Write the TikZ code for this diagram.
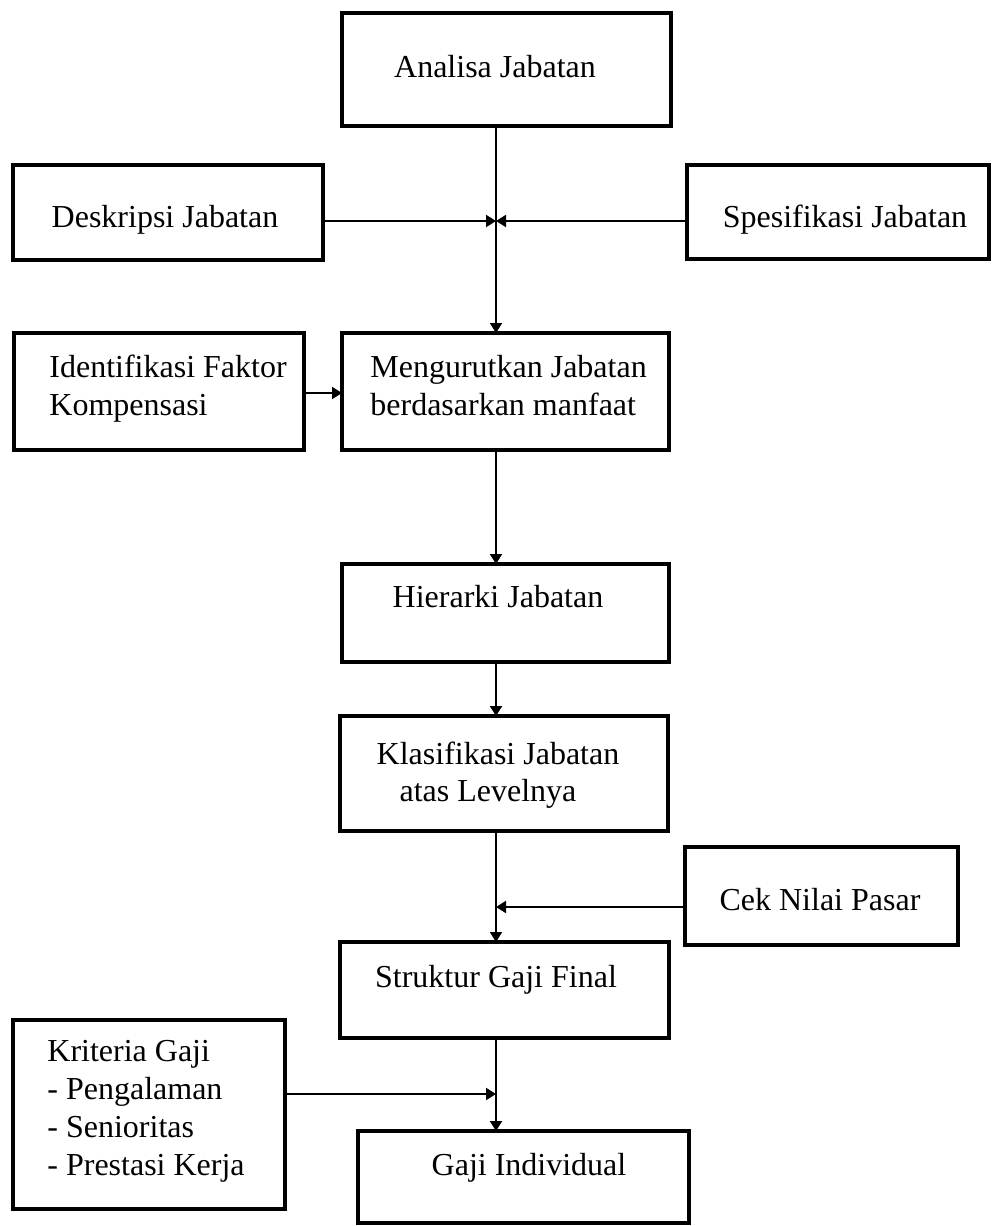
\documentclass[tikz,border=0pt]{standalone}
\usepackage{fontspec}
\setmainfont{Liberation Serif}
\usetikzlibrary{arrows.meta,fit}
\begin{document}
\begin{tikzpicture}[x=0.5pt,y=-0.5pt,
  box/.style={draw, line width=1.75pt, inner sep=0pt, outer sep=0pt},
  lbl/.style={font=\fontsize{16}{19}\selectfont, inner sep=0pt, anchor=base},
  lbll/.style={font=\fontsize{16}{19}\selectfont, inner sep=0pt, anchor=base west},
  conn/.style={line width=1pt, -{Triangle[length=5pt,width=6pt]}}]
\useasboundingbox (0,0) rectangle (992,1226);

% boxes
\node[box, fit={(342,13) (671,126)}] (ana) {};
\node[box, fit={(13,165) (323,260)}] (desk) {};
\node[box, fit={(687,165) (989,259)}] (spes) {};
\node[box, fit={(14,333) (304,450)}] (iden) {};
\node[box, fit={(342,333) (669,450)}] (meng) {};
\node[box, fit={(342,564) (669,662)}] (hier) {};
\node[box, fit={(340,716) (668,831)}] (klas) {};
\node[box, fit={(685,847) (958,945)}] (cek) {};
\node[box, fit={(340,942) (669,1038)}] (stru) {};
\node[box, fit={(13,1020) (285,1209)}] (krit) {};
\node[box, fit={(358,1131) (689,1223)}] (gaji) {};

% texts
\node[lbl] (anaT) at (495,77) {Analisa Jabatan};
\node[lbl] (deskT) at (165,227) {Deskripsi Jabatan};
\node[lbl] (spesT) at (845,227) {Spesifikasi Jabatan};
\node[lbll] (idenT1) at (49,377) {Identifikasi Faktor};
\node[lbll] (idenT2) at (49,415) {Kompensasi};
\node[lbll] (mengT1) at (370,377) {Mengurutkan Jabatan};
\node[lbll] (mengT2) at (370,415) {berdasarkan manfaat};
\node[lbl] (hierT) at (498,607) {Hierarki Jabatan};
\node[lbl] (klasT1) at (498,764) {Klasifikasi Jabatan};
\node[lbl] (klasT2) at (488,801) {atas Levelnya};
\node[lbl] (cekT) at (820,910) {Cek Nilai Pasar};
\node[lbl] (struT) at (496,987) {Struktur Gaji Final};
\node[lbll] (kritT1) at (47,1061) {Kriteria Gaji};
\node[lbll] (kritT2) at (47,1099) {- Pengalaman};
\node[lbll] (kritT3) at (47,1137) {- Senioritas};
\node[lbll] (kritT4) at (47,1175) {- Prestasi Kerja};
\node[lbl] (gajiT) at (529,1175) {Gaji Individual};

% junction points on the trunk
\coordinate (j1) at (496,221);
\coordinate (j2) at (496,393);
\coordinate (j3) at (496,907);
\coordinate (j4) at (496,1094);

% connectors
\draw[conn] (j1 |- ana.south) -- (j1 |- meng.north);
\draw[conn] (desk.east |- j1) -- (j1);
\draw[conn] (spes.west |- j1) -- (j1);
\draw[conn] (iden.east |- j2) -- (meng.west |- j2);
\draw[conn] (j1 |- meng.south) -- (j1 |- hier.north);
\draw[conn] (j1 |- hier.south) -- (j1 |- klas.north);
\draw[conn] (j1 |- klas.south) -- (j1 |- stru.north);
\draw[conn] (cek.west |- j3) -- (j3);
\draw[conn] (j1 |- stru.south) -- (j1 |- gaji.north);
\draw[conn] (krit.east |- j4) -- (j4);
\end{tikzpicture}
\end{document}
